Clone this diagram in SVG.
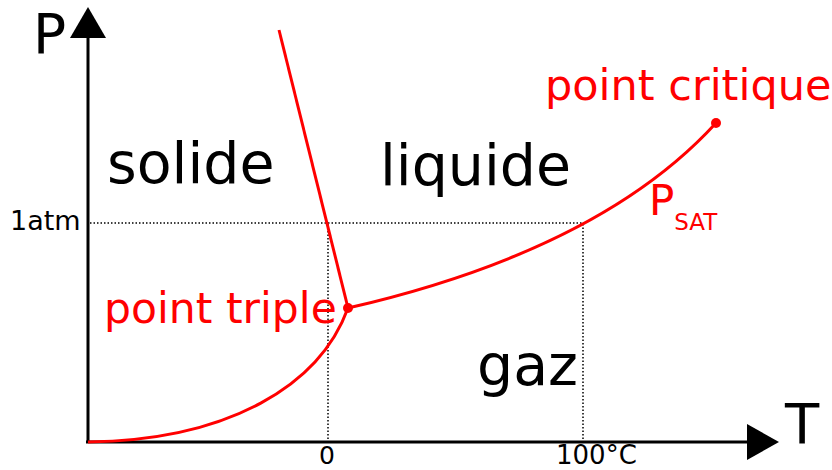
<svg xmlns="http://www.w3.org/2000/svg" width="832" height="470" viewBox="0 0 832 470">
<style>
text{font-family:"DejaVu Sans","Liberation Sans",sans-serif}
.k{fill:#000}
.r{fill:#ff0000}
.ax{stroke:#000;stroke-width:3;fill:none}
.dot{stroke:#000;stroke-width:1.5;stroke-dasharray:1.5 2;fill:none}
.curve{stroke:#ff0000;stroke-width:3;fill:none}
</style>
<rect width="832" height="470" fill="#fff"/>
<g id="axes">
<line class="ax" x1="88" y1="443" x2="88" y2="36"/>
<polygon class="k" points="88,7 70,38 106,38"/>
<line class="ax" x1="86" y1="442" x2="750" y2="442"/>
<polygon class="k" points="779,442 747,424 747,460"/>
<text x="33" y="53" font-size="55">P</text>
<text x="785" y="443" font-size="56">T</text>
</g>
<g id="guides">
<line class="dot" x1="90" y1="223" x2="583" y2="223"/>
<line class="dot" x1="328" y1="224" x2="328" y2="441"/>
<line class="dot" x1="583" y1="224" x2="583" y2="441"/>
<text x="10" y="230" font-size="27">1atm</text>
<text x="319" y="464" font-size="25">0</text>
<text x="556" y="464" font-size="26">100°C</text>
</g>
<g id="connectors">
<path class="curve" d="M279,30 L348,308"/>
<path class="curve" d="M88,442 C230,440 320,385 348,308"/>
<path class="curve" d="M348,308 Q600,250 716,123"/>
</g>
<g id="triple-point">
<circle class="r" cx="348" cy="308" r="5"/>
<text class="r" x="104" y="323" font-size="42.5">point triple</text>
</g>
<g id="critical-point">
<circle class="r" cx="716" cy="123" r="5"/>
<text class="r" x="545" y="100" font-size="43">point critique</text>
</g>
<g id="psat">
<text class="r" x="649" y="215" font-size="42">P<tspan font-size="23" dy="15">SAT</tspan></text>
</g>
<g id="solide"><text x="107" y="183" font-size="57">solide</text></g>
<g id="liquide"><text x="380" y="185" font-size="57">liquide</text></g>
<g id="gaz"><text x="477" y="385" font-size="57">gaz</text></g>
</svg>
